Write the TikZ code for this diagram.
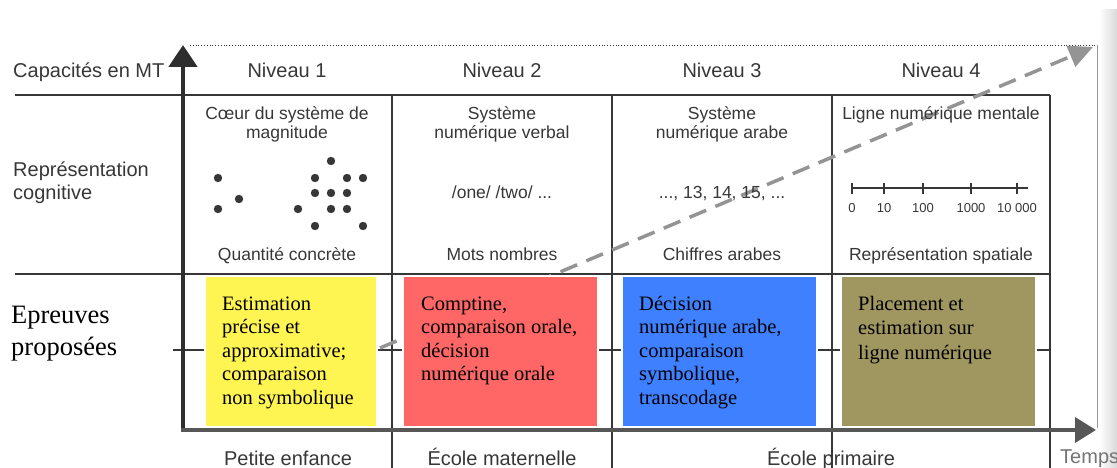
\documentclass[tikz,border=0pt]{standalone}
\usepackage{fontspec}
\setmainfont{Liberation Serif}
\setsansfont{Liberation Sans}
\usetikzlibrary{arrows.meta}

\definecolor{scanink}{RGB}{55,55,55}
\definecolor{boxyellow}{RGB}{255,245,82}
\definecolor{boxred}{RGB}{255,102,102}
\definecolor{boxblue}{RGB}{62,128,255}
\definecolor{boxolive}{RGB}{160,150,96}

\begin{document}
\begin{tikzpicture}[x=1pt, y=-1pt,
		gridline/.style={line width=1.5pt, draw=scanink},
		lvlhead/.style={font=\sffamily\fontsize{20}{24}\selectfont, text=scanink, inner sep=0pt, anchor=base, align=center},
		lvlsub/.style={font=\sffamily\fontsize{17.5}{19.5}\selectfont, text=scanink, inner sep=0pt, anchor=base, align=center},
		taskbox/.style={fill=#1, draw=white, line width=2pt},
		tasktext/.style={font=\fontsize{20.5}{23.5}\selectfont, inner sep=0pt, anchor=base west, align=left}]
		\useasboundingbox (0,0) rectangle (1117,468);
		
		% page shadow on the right
		\shade[left color=white, right color=black!15] (1099,10) rectangle (1117,468);
		
		% table lines
		\draw[gridline] (15,95) -- (1050,95);
		\draw[gridline] (15,274) -- (1050,274);
		\draw[gridline] (173,350) -- (1050,350);
		\foreach \x in {392,612,832,1050}{\draw[gridline] (\x,95) -- (\x,468);}
		
		\draw[dotted, line width=0.8pt, scanink] (190,45) -- (1097,45);
		\draw[line width=0.8pt, black!40] (1097,45) -- (1097,428);
		
		% dashed arrow of progression
		\coordinate (dashstart) at (380,348);
		\coordinate (dashtip) at (1093,47);
		\draw[black!42, line width=3.5pt, dash pattern=on 18pt off 10pt, -{Triangle[length=24pt,width=22pt]}] (dashstart) -- (dashtip);
		
		% axes
		\coordinate (origin) at (183,430);
		\coordinate (ytip) at (183,45);
		\coordinate (xtip) at (1096,430);
		\draw[line width=4.5pt, black!82, -{Triangle[length=22pt,width=28pt]}] ([yshift=-2pt]origin) -- (ytip);
		\draw[line width=4pt, black!66, -{Triangle[length=21pt,width=25pt]}] ([xshift=-2pt]origin) -- (xtip);
		
		% header row (base of a node with several lines = its last line)
		\node[lvlhead, anchor=base west] (capmt) at (13,78) {Capacités en MT};
		\node[lvlhead] (niv1) at (287,78) {Niveau 1};
		\node[lvlhead] (niv2) at (502,78) {Niveau 2};
		\node[lvlhead] (niv3) at (722,78) {Niveau 3};
		\node[lvlhead] (niv4) at (941,78) {Niveau 4};
		
		\node[lvlhead, anchor=base west, align=left] (repcog) at (13,200) {Représentation\\cognitive};
		
		\node[lvlsub] (coeur) at (287,139) {Cœur du système de\\magnitude};
		\node[lvlsub] (sysverbal) at (502,139) {Système\\numérique verbal};
		\node[lvlsub] (sysarabe) at (722,139) {Système\\numérique arabe};
		\node[lvlsub] (lignementale) at (941,120) {Ligne numérique mentale};
		
		% dots of magnitude
		\foreach \x/\y in {218/178, 218/209, 239/199, 331/161, 315/178, 347/178, 363/178, 315/193, 331/193, 347/193, 298/209, 331/209, 347/209, 315/226, 363/226}
			{\fill[scanink] (\x,\y) circle (4.2pt);}
		
		\node[lvlsub] (motsoral) at (502,199) {/one/ /two/ ...};
		\node[lvlsub] (chiffres) at (722,199) {..., 13, 14, 15, ...};
		
		% number line
		\draw[line width=2pt, scanink] (852,188) -- (1028,188);
		\foreach \x/\v in {852/0, 884/10, 923/100, 971/1000, 1017/{10 000}}{
			\draw[line width=2pt, scanink] (\x,183) -- (\x,194);
			\node[font=\sffamily\fontsize{13}{15}\selectfont, text=scanink, inner sep=0pt, anchor=base] (nl\x) at (\x,212) {\v};
		}
		
		\node[lvlsub] (quantite) at (287,260) {Quantité concrète};
		\node[lvlsub] (motsnb) at (502,260) {Mots nombres};
		\node[lvlsub] (chiffresar) at (722,260) {Chiffres arabes};
		\node[lvlsub] (repspatiale) at (941,260) {Représentation spatiale};
		
		% tasks
		\node[font=\fontsize{26.5}{32}\selectfont, inner sep=0pt, anchor=base west, align=left] (epreuves) at (11,355) {Epreuves\\proposées};
		
		\draw[taskbox=boxyellow] (205,276) rectangle (377,427);
		\draw[taskbox=boxred] (403,276) rectangle (598,427);
		\draw[taskbox=boxblue] (622,276) rectangle (817,427);
		\draw[taskbox=boxolive] (841,276) rectangle (1036,427);
		
		\node[tasktext] (task1) at (222,404) {Estimation\\précise et\\approximative;\\comparaison\\non symbolique};
		\node[tasktext] (task2) at (421,380.5) {Comptine,\\comparaison orale,\\décision\\numérique orale};
		\node[tasktext] (task3) at (639,404) {Décision\\numérique arabe,\\comparaison\\symbolique,\\transcodage};
		\node[tasktext, font=\fontsize{20.5}{24.5}\selectfont] (task4) at (858,359) {Placement et\\estimation sur\\ligne numérique};
		
		% time axis
		\node[lvlhead] (petite) at (288,465) {Petite enfance};
		\node[lvlhead] (maternelle) at (502,465) {École maternelle};
		\node[lvlhead] (primaire) at (831,465) {École primaire};
		\node[lvlhead, anchor=base west, text=black!55] (temps) at (1060,463) {Temps};
		
\end{tikzpicture}
\end{document}
